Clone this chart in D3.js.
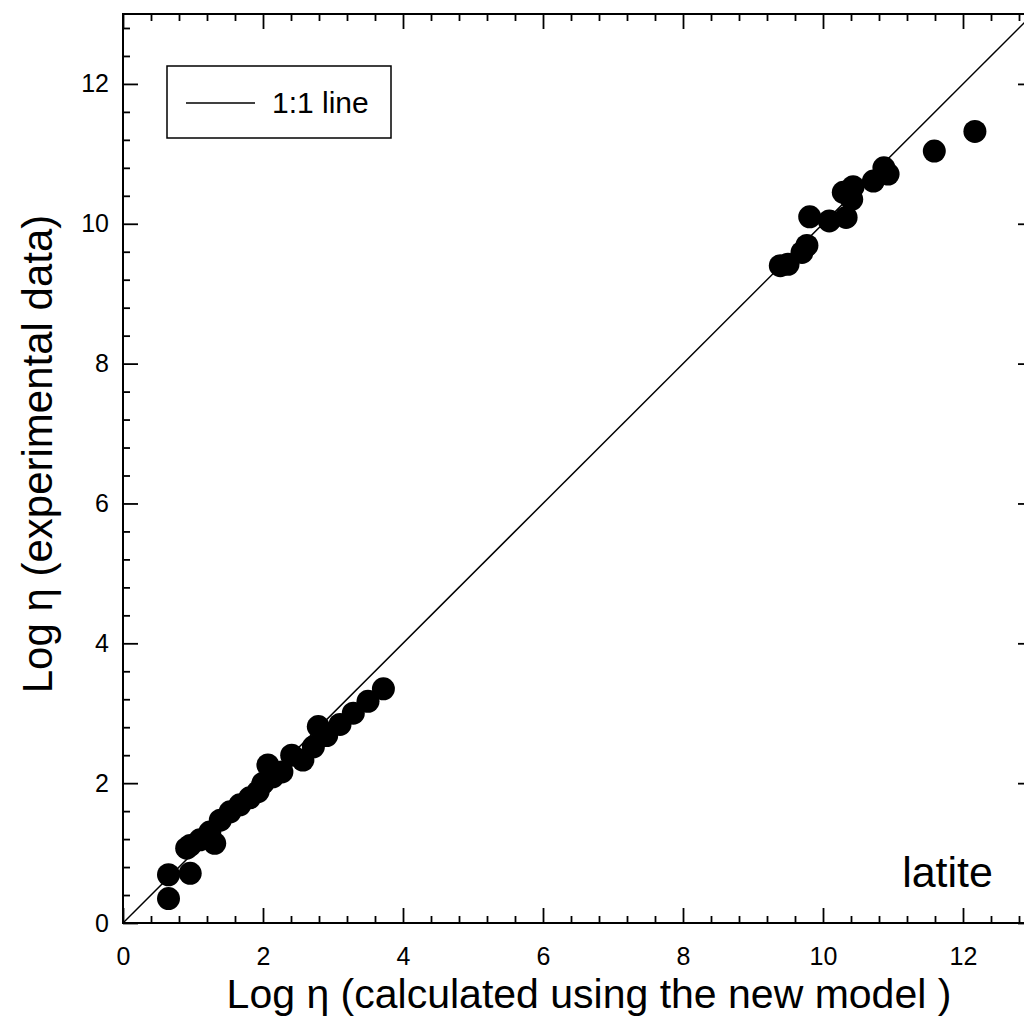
<!DOCTYPE html>
<html>
<head>
<meta charset="utf-8">
<script src="https://cdn.jsdelivr.net/npm/d3@7"></script>
<style>
  body { margin: 0; background: #fff; }
  svg { display: block; font-family: "Liberation Sans", Arial, sans-serif; }
</style>
</head>
<body>
<div id="chart"></div>
<script>
// calculated (new model) vs experimental log viscosity
const calcLogEta = [0.65, 0.65, 0.96, 0.91, 0.96, 1.10, 1.31, 1.24, 1.39, 1.53, 1.67, 1.81, 1.93, 2.00,
                    2.07, 2.14, 2.27, 2.41, 2.57, 2.72, 2.79, 2.91, 3.10, 3.29, 3.50, 3.72,
                    9.39, 9.50, 9.70, 9.77, 9.81, 10.09, 10.33, 10.41, 10.29, 10.43, 10.72, 10.87, 10.93, 11.59, 12.17];
const expLogEta  = [0.35, 0.69, 0.71, 1.07, 1.11, 1.19, 1.14, 1.30, 1.47, 1.59, 1.69, 1.79, 1.88, 2.00,
                    2.26, 2.09, 2.16, 2.40, 2.33, 2.52, 2.81, 2.68, 2.84, 3.00, 3.17, 3.35,
                    9.40, 9.42, 9.59, 9.69, 10.10, 10.04, 10.09, 10.35, 10.45, 10.53, 10.61, 10.80, 10.71, 11.04, 11.32];
const majorTicks = [0, 2, 4, 6, 8, 10, 12];
const oneToOne = [0, 13];
const legendLabel = "1:1 line";
const groupLabel = "latite";

const W = 1024, H = 1034;
const mLeft = 123, mRight = 1033, mTop = 14, mBottom = 923;
const FONT = '"Liberation Sans", Arial, sans-serif';

const svg = d3.select("#chart").append("svg")
    .attr("width", W)
    .attr("height", H);

const x = d3.scaleLinear().domain([0, 13]).range([mLeft, mRight]);
const y = d3.scaleLinear().domain([0, 13]).range([mBottom, mTop]);

const minorTicks = d3.range(0, 13, 0.4).filter(v => Math.abs(v / 2 - Math.round(v / 2)) > 1e-6);

// ticks on all four sides, pointing inward
function addAxis(axisFn, scale, tx, ty, values, size, labels) {
    const a = axisFn(scale).tickValues(values).tickSize(size).tickSizeOuter(0);
    if (!labels) a.tickFormat("");
    const g = svg.append("g").attr("transform", `translate(${tx},${ty})`).call(a);
    g.attr("font-family", FONT).attr("font-size", 25);
    g.select(".domain").remove();
    g.selectAll(".tick line").attr("stroke", "#000").attr("stroke-width", 1.8);
    return g;
}

const xb = addAxis(d3.axisBottom, x, 0, mBottom, majorTicks, -15, true);
xb.selectAll("text").attr("y", 24).attr("fill", "#000");
addAxis(d3.axisBottom, x, 0, mBottom, minorTicks, -7, false);
addAxis(d3.axisTop, x, 0, mTop, majorTicks, -15, false);
addAxis(d3.axisTop, x, 0, mTop, minorTicks, -7, false);

const yl = addAxis(d3.axisLeft, y, mLeft, 0, majorTicks, -15, true);
yl.selectAll("text").attr("x", -14).attr("fill", "#000");
addAxis(d3.axisLeft, y, mLeft, 0, minorTicks, -7, false);
addAxis(d3.axisRight, y, mRight, 0, majorTicks, -15, false);
addAxis(d3.axisRight, y, mRight, 0, minorTicks, -7, false);

// frame
svg.append("rect")
    .attr("x", mLeft).attr("y", mTop)
    .attr("width", mRight - mLeft).attr("height", mBottom - mTop)
    .attr("fill", "none").attr("stroke", "#000").attr("stroke-width", 2);

// 1:1 line
svg.append("line")
    .attr("x1", x(oneToOne[0])).attr("y1", y(oneToOne[0]))
    .attr("x2", x(oneToOne[1])).attr("y2", y(oneToOne[1]))
    .attr("stroke", "#000").attr("stroke-width", 1.5);

svg.append("g")
  .selectAll("circle")
  .data(calcLogEta.map((d, i) => [d, expLogEta[i]]))
  .join("circle")
    .attr("cx", d => x(d[0]))
    .attr("cy", d => y(d[1]))
    .attr("r", 11.5)
    .attr("fill", "#000");

// legend
const leg = svg.append("g");
leg.append("rect")
    .attr("x", 167).attr("y", 66).attr("width", 224).attr("height", 72)
    .attr("fill", "#fff").attr("stroke", "#000").attr("stroke-width", 1.5);
leg.append("line")
    .attr("x1", 186).attr("x2", 255).attr("y1", 103).attr("y2", 103)
    .attr("stroke", "#000").attr("stroke-width", 1.5);
leg.append("text")
    .attr("x", 272).attr("y", 113)
    .attr("font-size", 30)
    .text(legendLabel);

svg.append("text")
    .attr("x", 993).attr("y", 887)
    .attr("text-anchor", "end")
    .attr("font-size", 43)
    .text(groupLabel);

// axis titles
svg.append("text")
    .attr("x", 589).attr("y", 1008)
    .attr("text-anchor", "middle")
    .attr("font-size", 41)
    .text("Log η (calculated using the new model )");

svg.append("text")
    .attr("transform", "translate(52,454) rotate(-90)")
    .attr("text-anchor", "middle")
    .attr("font-size", 42)
    .text("Log η (experimental data)");
</script>
</body>
</html>
